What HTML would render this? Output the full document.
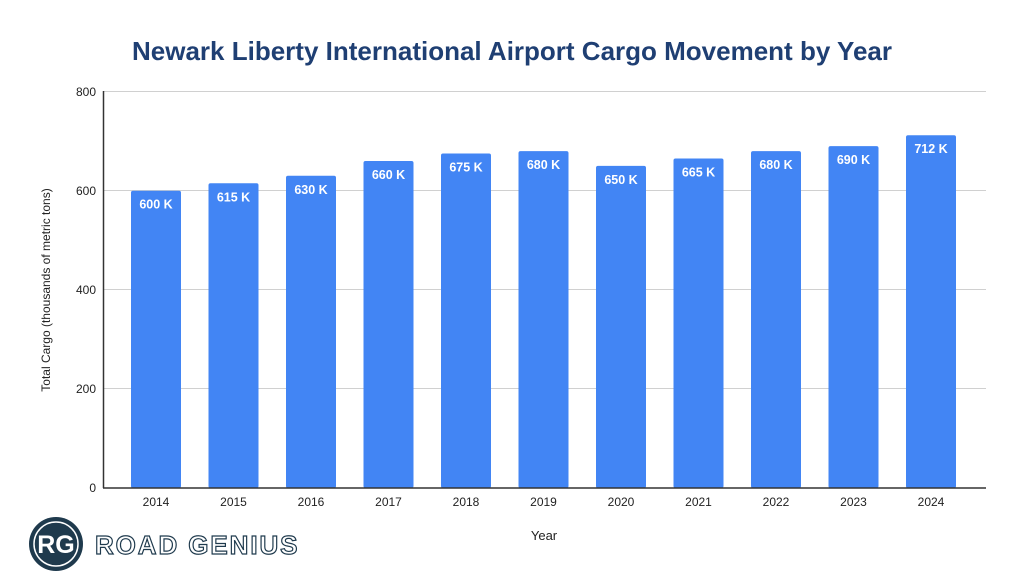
<!DOCTYPE html>
<html><head><meta charset="utf-8"><style>
body{margin:0;background:#fff;}
svg{display:block;font-family:"Liberation Sans",Arial,sans-serif;}
</style></head><body>
<svg width="1024" height="582" viewBox="0 0 1024 582" xmlns="http://www.w3.org/2000/svg">
<rect width="1024" height="582" fill="#fff"/>
<text x="512" y="60" text-anchor="middle" font-size="26" font-weight="bold" fill="#1f3f73">Newark Liberty International Airport Cargo Movement by Year</text>
<g stroke="#d0d0d0" stroke-width="1">
<line x1="103" y1="91.5" x2="986" y2="91.5"/>
<line x1="103" y1="190.5" x2="986" y2="190.5"/>
<line x1="103" y1="289.5" x2="986" y2="289.5"/>
<line x1="103" y1="388.5" x2="986" y2="388.5"/>
</g>
<g font-size="12" fill="#222" text-anchor="end">
<text x="96" y="96">800</text><text x="96" y="195">600</text><text x="96" y="294">400</text><text x="96" y="393">200</text><text x="96" y="492">0</text>
</g>
<text transform="translate(50,290) rotate(-90)" text-anchor="middle" font-size="12" fill="#222">Total Cargo (thousands of metric tons)</text>
<g fill="#4285f4">
<rect x="131" y="190.7" width="50" height="297.3" rx="2"/>
<rect x="208.5" y="183.3" width="50" height="304.7" rx="2"/>
<rect x="286" y="175.8" width="50" height="312.2" rx="2"/>
<rect x="363.5" y="161" width="50" height="327" rx="2"/>
<rect x="441" y="153.5" width="50" height="334.5" rx="2"/>
<rect x="518.5" y="151.1" width="50" height="336.9" rx="2"/>
<rect x="596" y="165.9" width="50" height="322.1" rx="2"/>
<rect x="673.5" y="158.5" width="50" height="329.5" rx="2"/>
<rect x="751" y="151.1" width="50" height="336.9" rx="2"/>
<rect x="828.5" y="146.1" width="50" height="341.9" rx="2"/>
<rect x="906" y="135.2" width="50" height="352.8" rx="2"/>
</g>
<line x1="103.5" y1="91" x2="103.5" y2="488" stroke="#333" stroke-width="1.5"/>
<line x1="103" y1="488" x2="986" y2="488" stroke="#333" stroke-width="1.5"/>
<g font-size="12.5" fill="#fff" font-weight="bold" text-anchor="middle">
<text x="156" y="208.7">600 K</text>
<text x="233.5" y="201.3">615 K</text>
<text x="311" y="193.8">630 K</text>
<text x="388.5" y="179">660 K</text>
<text x="466" y="171.5">675 K</text>
<text x="543.5" y="169.1">680 K</text>
<text x="621" y="183.9">650 K</text>
<text x="698.5" y="176.5">665 K</text>
<text x="776" y="169.1">680 K</text>
<text x="853.5" y="164.1">690 K</text>
<text x="931" y="153.2">712 K</text>
</g>
<g font-size="12" fill="#222" text-anchor="middle">
<text x="156" y="506">2014</text><text x="233.5" y="506">2015</text><text x="311" y="506">2016</text><text x="388.5" y="506">2017</text><text x="466" y="506">2018</text><text x="543.5" y="506">2019</text><text x="621" y="506">2020</text><text x="698.5" y="506">2021</text><text x="776" y="506">2022</text><text x="853.5" y="506">2023</text><text x="931" y="506">2024</text>
</g>
<text x="544" y="540" text-anchor="middle" font-size="13" fill="#222">Year</text>
<circle cx="56" cy="544" r="27" fill="#1f3a4d"/>
<circle cx="56" cy="544" r="22" fill="none" stroke="#fff" stroke-width="1.5"/>
<text x="56" y="553" text-anchor="middle" font-size="25" font-weight="bold" fill="#fff">RG</text>
<text x="95" y="554" font-size="26" font-weight="bold" fill="none" stroke="#1f3a4d" stroke-width="1.2" letter-spacing="1.9">ROAD GENIUS</text>
</svg>
</body></html>
